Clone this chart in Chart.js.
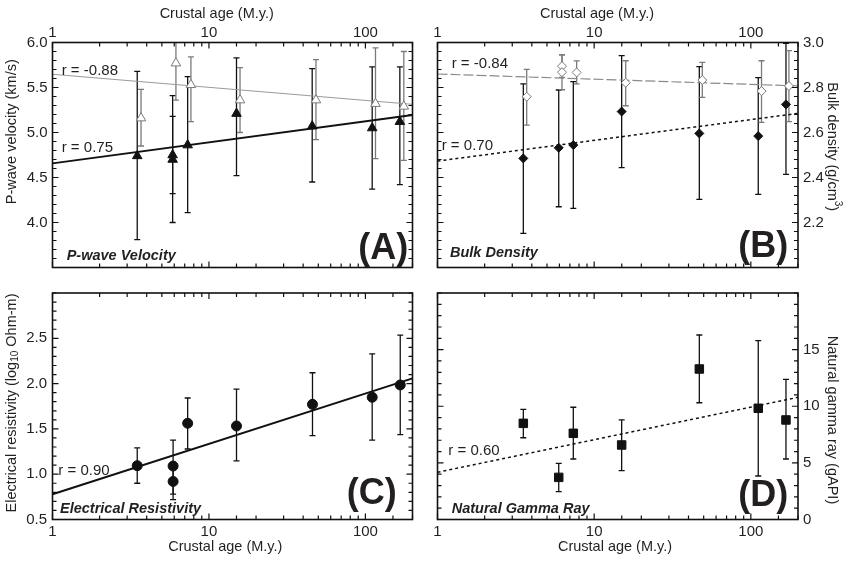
<!DOCTYPE html>
<html><head><meta charset="utf-8">
<script src="https://cdn.jsdelivr.net/npm/chart.js@4.4.1/dist/chart.umd.min.js"></script>
<style>
html,body{margin:0;padding:0;background:#fff;width:844px;height:562px;overflow:hidden}
canvas{position:absolute;left:0;top:0}
</style></head><body>
<canvas id="cA" width="844" height="562"></canvas>
<canvas id="cB" width="844" height="562"></canvas>
<canvas id="cC" width="844" height="562"></canvas>
<canvas id="cD" width="844" height="562"></canvas>
<script>
// ---------- shared axis data ----------
const xMin = 1, xMax = 200;
const xTickLabels = [1, 10, 100];
const fitAges = [1, 200];

// ---------- Panel A: P-wave velocity (km/s) ----------
const ageAFilled = [3.48, 5.86, 5.86, 7.31, 15.0, 45.7, 110.5, 166];
const vpFilled   = [4.74, 4.75, 4.70, 4.86, 5.21, 5.07, 5.05, 5.12];
const vpFilledLo = [3.81, 4.32, 4.00, 4.11, 4.52, 4.45, 4.37, 4.42];
const vpFilledHi = [5.68, 5.18, 5.41, 5.62, 5.83, 5.71, 5.73, 5.73];
const ageAOpen   = [3.68, 6.15, 7.67, 15.8, 48.3, 116, 176];
const vpOpen     = [5.16, 5.77, 5.53, 5.36, 5.36, 5.32, 5.29];
const vpOpenLo   = [4.85, 5.36, 5.12, 5.00, 4.92, 4.71, 4.69];
const vpOpenHi   = [5.48, 6.18, 5.84, 5.72, 5.81, 5.94, 5.90];
const fitAFilled = [4.657, 5.194];
const fitAOpen   = [5.647, 5.313];
const yTickLabelsA = [4.0, 4.5, 5.0, 5.5, 6.0];

// ---------- Panel B: Bulk density (g/cm3) ----------
const ageBFilled  = [3.53, 5.94, 7.36, 14.98, 46.9, 111.5, 167.6];
const rhoFilled   = [2.485, 2.532, 2.544, 2.693, 2.596, 2.584, 2.725];
const rhoFilledLo = [2.152, 2.270, 2.263, 2.444, 2.303, 2.325, 2.414];
const rhoFilledHi = [2.816, 2.789, 2.826, 2.942, 2.893, 2.844, 2.996];
const ageBOpen    = [3.71, 6.23, 6.23, 7.73, 15.9, 49, 117, 175];
const rhoOpen     = [2.759, 2.895, 2.868, 2.867, 2.821, 2.833, 2.784, 2.807];
const rhoOpenLo   = [2.633, 2.845, 2.790, 2.816, 2.719, 2.756, 2.645, 2.648];
const rhoOpenHi   = [2.881, 2.945, 2.945, 2.918, 2.919, 2.912, 2.919, 2.964];
const fitBOpen    = [2.860, 2.807];
const fitBFilled  = [2.473, 2.685];
const yTickLabelsB = [2.2, 2.4, 2.6, 2.8, 3.0];

// ---------- Panel C: Electrical resistivity (log10 Ohm-m) ----------
const ageC  = [3.48, 5.9, 5.9, 7.31, 15.0, 45.9, 110.5, 167];
const resC  = [1.094, 1.090, 0.920, 1.562, 1.532, 1.771, 1.849, 1.985];
const resLo = [0.900, 0.780, 0.720, 1.278, 1.146, 1.425, 1.377, 1.436];
const resHi = [1.290, 1.377, 1.120, 1.841, 1.940, 2.120, 2.327, 2.536];
const fitC  = [0.778, 2.058];
const yTickLabelsC = [0.5, 1.0, 1.5, 2.0, 2.5];

// ---------- Panel D: Natural gamma ray (gAPI) ----------
const ageD = [3.53, 5.94, 7.36, 14.98, 46.9, 111.5, 167.6];
const grD  = [8.49, 3.72, 7.61, 6.58, 13.29, 9.82, 8.79];
const grLo = [7.22, 2.46, 5.34, 4.31, 10.31, 3.84, 5.34];
const grHi = [9.73, 4.96, 9.91, 8.79, 16.29, 15.79, 12.38];
const fitD = [4.17, 10.79];
const yTickLabelsD = [0, 5, 10, 15];

// ---------- styling ----------
const FONT = "'Liberation Sans', Arial, Helvetica, sans-serif";
const TXT = '#231f20';
const INK = '#111';
const GREY = '#7a7a7a';

const pts = (xs, ys) => xs.map((x, i) => ({x, y: ys[i]}));
const has = (arr, v, tol) => arr.some(l => Math.abs(l - v) < tol);

const extras = {};

function drawText(ctx, it) {
  ctx.save();
  ctx.translate(it.x, it.y);
  if (it.rot) ctx.rotate(it.rot * Math.PI / 180);
  ctx.fillStyle = it.color || TXT;
  ctx.textBaseline = it.baseline || 'alphabetic';
  ctx.textAlign = 'left';
  const segs = it.segs || [{t: it.text}];
  const f = s => (it.style || '') + ' ' + (s.size || it.size) + 'px ' + FONT;
  let total = 0;
  segs.forEach(s => { ctx.font = f(s); s._w = ctx.measureText(s.t).width; total += s._w; });
  let cx = it.align === 'center' ? -total / 2 : (it.align === 'right' ? -total : 0);
  segs.forEach(s => { ctx.font = f(s); ctx.fillText(s.t, cx, s.dy || 0); cx += s._w; });
  ctx.restore();
}

const decor = {
  id: 'decor',
  beforeDatasetsDraw(chart) {
    const ex = extras[chart.canvas.id]; if (!ex) return;
    const {ctx, chartArea: a} = chart;
    const xs = chart.scales.x, ys = chart.scales.y;
    ctx.save();
    ctx.beginPath(); ctx.rect(a.left, a.top, a.right - a.left, a.bottom - a.top); ctx.clip();
    ex.errorBars.forEach(eb => {
      ctx.strokeStyle = eb.color; ctx.lineWidth = eb.width;
      eb.x.forEach((xv, i) => {
        const px = xs.getPixelForValue(xv);
        const p1 = ys.getPixelForValue(eb.lo[i]), p2 = ys.getPixelForValue(eb.hi[i]);
        ctx.beginPath();
        ctx.moveTo(px, p1); ctx.lineTo(px, p2);
        ctx.moveTo(px - eb.cap, p1); ctx.lineTo(px + eb.cap, p1);
        ctx.moveTo(px - eb.cap, p2); ctx.lineTo(px + eb.cap, p2);
        ctx.stroke();
      });
    });
    ctx.restore();
  },
  afterDraw(chart) {
    const ex = extras[chart.canvas.id]; if (!ex) return;
    const {ctx, chartArea: a} = chart;
    const xs = chart.scales.x, ys = chart.scales.y;
    ctx.save();
    ctx.strokeStyle = INK; ctx.lineWidth = 1.2;
    xs.ticks.forEach(t => {
      const lg = Math.log10(t.value);
      const major = Math.abs(lg - Math.round(lg)) < 1e-9;
      const len = major ? 6 : 4;
      const p = xs.getPixelForValue(t.value);
      ctx.beginPath();
      ctx.moveTo(p, a.top); ctx.lineTo(p, a.top + len);
      ctx.moveTo(p, a.bottom); ctx.lineTo(p, a.bottom - len);
      ctx.stroke();
    });
    ys.ticks.forEach(t => {
      const major = t.label !== '' && t.label != null;
      const len = major ? 6 : 4;
      const p = ys.getPixelForValue(t.value);
      ctx.beginPath();
      ctx.moveTo(a.left, p); ctx.lineTo(a.left + len, p);
      ctx.moveTo(a.right, p); ctx.lineTo(a.right - len, p);
      ctx.stroke();
    });
    ctx.lineWidth = 1.6;
    ctx.strokeRect(a.left, a.top, a.right - a.left, a.bottom - a.top);
    ctx.restore();
    ex.texts.forEach(it => drawText(ctx, it));
  }
};
Chart.register(decor);

function fitLine(ys, color, width, dash) {
  return {data: pts(fitAges, ys), showLine: true, pointRadius: 0, borderColor: color,
          borderWidth: width, borderDash: dash || [], fill: false};
}
function marker(xs, ys, style, r, filled, color) {
  return {data: pts(xs, ys), pointStyle: style, pointRadius: r,
          backgroundColor: filled ? color : '#ffffff', borderColor: color, borderWidth: 1};
}

function makePanel(id, cfg) {
  extras[id] = {errorBars: cfg.errorBars, texts: cfg.texts};
  return new Chart(document.getElementById(id), {
    type: 'scatter',
    data: {datasets: cfg.datasets},
    options: {
      responsive: false, animation: false, events: [],
      layout: {padding: cfg.padding},
      plugins: {legend: {display: false}, tooltip: {enabled: false}},
      scales: {
        x: {type: 'logarithmic', position: cfg.xPos, min: xMin, max: xMax,
            grid: {display: false, drawTicks: false}, border: {display: false},
            ticks: {autoSkip: false, maxRotation: 0, minRotation: 0, padding: cfg.xPad,
                    color: TXT, font: {family: FONT, size: 15},
                    callback: v => has(xTickLabels, v, 1e-9) ? String(v) : ''},
            afterFit: s => { s.height = cfg.xH; }},
        y: {type: 'linear', position: cfg.yPos, min: cfg.yMin, max: cfg.yMax,
            grid: {display: false, drawTicks: false}, border: {display: false},
            ticks: {autoSkip: false, stepSize: cfg.yStep, padding: cfg.yPad,
                    color: TXT, font: {family: FONT, size: 15},
                    callback: v => has(cfg.yLabels, v, 1e-6) ? v.toFixed(cfg.yDec) : ''},
            afterFit: s => { s.width = cfg.yW; }}
      }
    }
  });
}

const ageTitle = 'Crustal age (M.y.)';

// Panel A
makePanel('cA', {
  padding: {top: 0, left: 0, right: 431.5, bottom: 294.5},
  xPos: 'top', xH: 42.5, xPad: 1, yPos: 'left', yW: 52.5, yPad: 5,
  yMin: 3.5, yMax: 6.0, yStep: 0.1, yLabels: yTickLabelsA, yDec: 1,
  datasets: [
    marker(ageAOpen, vpOpen, 'triangle', 5.5, false, GREY),
    marker(ageAFilled, vpFilled, 'triangle', 5.5, true, INK),
    fitLine(fitAOpen, '#9a9a9a', 1),
    fitLine(fitAFilled, INK, 2)
  ],
  errorBars: [
    {x: ageAFilled, lo: vpFilledLo, hi: vpFilledHi, color: INK, width: 1.3, cap: 3},
    {x: ageAOpen, lo: vpOpenLo, hi: vpOpenHi, color: GREY, width: 1.3, cap: 3}
  ],
  texts: [
    {text: ageTitle, x: 216.7, y: 14, size: 14.5, align: 'center', baseline: 'middle'},
    {text: 'P-wave velocity (km/s)', x: 11.7, y: 131.7, size: 14.5, align: 'center', baseline: 'middle', rot: -90},
    {text: 'r = -0.88', x: 61.7, y: 75, size: 15},
    {text: 'r = 0.75', x: 61.7, y: 151.7, size: 15},
    {text: 'P-wave Velocity', x: 66.7, y: 260, size: 14.5, style: 'italic bold'},
    {text: '(A)', x: 408.3, y: 259.3, size: 36, style: 'bold', align: 'right'}
  ]
});

// Panel B
makePanel('cB', {
  padding: {top: 0, left: 437.5, right: 0, bottom: 294.5},
  xPos: 'top', xH: 42.5, xPad: 1, yPos: 'right', yW: 46, yPad: 5,
  yMin: 2.0, yMax: 3.0, yStep: 0.04, yLabels: yTickLabelsB, yDec: 1,
  datasets: [
    marker(ageBOpen, rhoOpen, 'rectRot', 4.5, false, GREY),
    marker(ageBFilled, rhoFilled, 'rectRot', 4.5, true, INK),
    fitLine(fitBOpen, '#8a8a8a', 1.2, [10, 3]),
    fitLine(fitBFilled, INK, 1.5, [3, 3])
  ],
  errorBars: [
    {x: ageBFilled, lo: rhoFilledLo, hi: rhoFilledHi, color: INK, width: 1.3, cap: 3},
    {x: ageBOpen, lo: rhoOpenLo, hi: rhoOpenHi, color: GREY, width: 1.3, cap: 3}
  ],
  texts: [
    {text: ageTitle, x: 597, y: 13.5, size: 14.5, align: 'center', baseline: 'middle'},
    {segs: [{t: 'Bulk density (g/cm'}, {t: '3', size: 10, dy: -6}, {t: ')'}], x: 832, y: 146.7, size: 14.5, align: 'center', baseline: 'middle', rot: 90},
    {text: 'r = -0.84', x: 451.7, y: 68.3, size: 15},
    {text: 'r = 0.70', x: 441.7, y: 150, size: 15},
    {text: 'Bulk Density', x: 450, y: 257.3, size: 14.5, style: 'italic bold'},
    {text: '(B)', x: 788.3, y: 256.7, size: 36, style: 'bold', align: 'right'}
  ]
});

// Panel C
makePanel('cC', {
  padding: {top: 293, left: 0, right: 431.5, bottom: 0},
  xPos: 'bottom', xH: 42.5, xPad: 3, yPos: 'left', yW: 52.5, yPad: 5.5,
  yMin: 0.5, yMax: 3.0, yStep: 0.1, yLabels: yTickLabelsC, yDec: 1,
  datasets: [
    marker(ageC, resC, 'circle', 5, true, INK),
    fitLine(fitC, INK, 2)
  ],
  errorBars: [
    {x: ageC, lo: resLo, hi: resHi, color: INK, width: 1.3, cap: 3}
  ],
  texts: [
    {text: ageTitle, x: 225.3, y: 547, size: 14.5, align: 'center', baseline: 'middle'},
    {segs: [{t: 'Electrical resistivity (log'}, {t: '10', size: 10, dy: 4}, {t: ' Ohm-m)'}], x: 11.5, y: 403, size: 14.5, align: 'center', baseline: 'middle', rot: -90},
    {text: 'r = 0.90', x: 58.3, y: 475, size: 15},
    {text: 'Electrical Resistivity', x: 60, y: 512.7, size: 14.5, style: 'italic bold'},
    {text: '(C)', x: 396.7, y: 504.3, size: 36, style: 'bold', align: 'right'}
  ]
});

// Panel D
makePanel('cD', {
  padding: {top: 293, left: 437.5, right: 0, bottom: 0},
  xPos: 'bottom', xH: 42.5, xPad: 3, yPos: 'right', yW: 46, yPad: 5,
  yMin: 0, yMax: 20, yStep: 1, yLabels: yTickLabelsD, yDec: 0,
  datasets: [
    marker(ageD, grD, 'rect', 6, true, INK),
    fitLine(fitD, INK, 1.5, [3, 3])
  ],
  errorBars: [
    {x: ageD, lo: grLo, hi: grHi, color: INK, width: 1.3, cap: 3}
  ],
  texts: [
    {text: ageTitle, x: 615, y: 547, size: 14.5, align: 'center', baseline: 'middle'},
    {text: 'Natural gamma ray (gAPI)', x: 832, y: 420, size: 14.5, align: 'center', baseline: 'middle', rot: 90},
    {text: 'r = 0.60', x: 448.3, y: 455, size: 15},
    {text: 'Natural Gamma Ray', x: 451.7, y: 512.7, size: 14.5, style: 'italic bold'},
    {text: '(D)', x: 788.3, y: 506, size: 36, style: 'bold', align: 'right'}
  ]
});
</script>
</body></html>
